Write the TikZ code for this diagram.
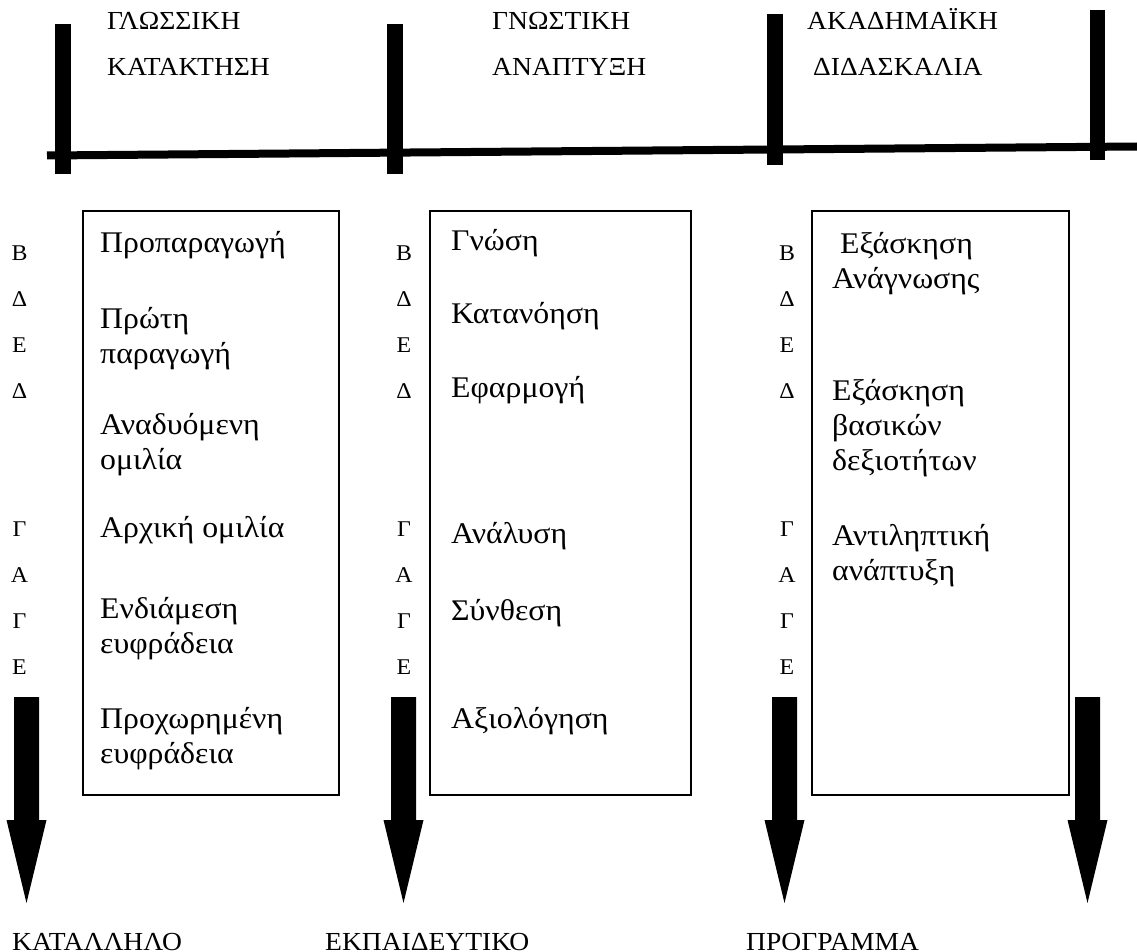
\documentclass[tikz,border=0pt]{standalone}
\usepackage{fontspec}
\setmainfont{Liberation Serif}[FakeStretch=1.06]
% first-line-aligned stack of lines
\newcommand{\mystack}[1]{\begin{tabular}[t]{@{}l@{}}#1\end{tabular}}
\begin{document}
\begin{tikzpicture}[x=1pt,y=-1pt,
  hdr/.style={anchor=base west,inner sep=0pt,font=\fontsize{26}{30}\selectfont},
  item/.style={anchor=base west,inner sep=0pt,font=\fontsize{30}{35}\selectfont},
  lvl/.style={anchor=base,inner sep=0pt,font=\fontsize{22.5}{26}\selectfont},
  stagebox/.style={draw,line width=1.6pt,inner sep=0pt,anchor=north west},
  post/.style={fill=black},
  blockarrow/.pic={\fill (-12.5,0) -- (12.5,0) -- (12.5,123) -- (20,123)
                     -- (0,206) -- (-20,123) -- (-12.5,123) -- cycle;}
]
\useasboundingbox (0,0) rectangle (1137,952);

% time line with its posts
\draw[line width=8pt] (47,155.5) -- (1137,146.5);
\fill[post] (55,24) rectangle (71,174);
\fill[post] (387,24) rectangle (403,174);
\fill[post] (767,14) rectangle (783,165);
\fill[post] (1090,10) rectangle (1105,160);

% stage headings
\node[hdr] (h1a) at (107,30) {ΓΛΩΣΣΙΚΗ};
\node[hdr] (h1b) at (107,76) {ΚΑΤΑΚΤΗΣΗ};
\node[hdr] (h2a) at (492,30) {ΓΝΩΣΤΙΚΗ};
\node[hdr] (h2b) at (492,76) {ΑΝΑΠΤΥΞΗ};
\node[hdr] (h3a) at (807,30) {ΑΚΑΔΗΜΑΪΚΗ};
\node[hdr] (h3b) at (813,76) {ΔΙΔΑΣΚΑΛΙΑ};

% stage boxes
\node[stagebox,minimum width=256pt,minimum height=584pt] (box1) at (82,210) {};
\node[stagebox,minimum width=261pt,minimum height=584pt] (box2) at (429,210) {};
\node[stagebox,minimum width=257pt,minimum height=584pt] (box3) at (811,210) {};

% language acquisition
\node[item] (a1) at (100,252) {Προπαραγωγή};
\node[item] (a2) at (100,328) {\mystack{Πρώτη\\παραγωγή}};
\node[item] (a3) at (100,434) {\mystack{Αναδυόμενη\\ομιλία}};
\node[item] (a4) at (100,537) {Αρχική ομιλία};
\node[item] (a5) at (100,618) {\mystack{Ενδιάμεση\\ευφράδεια}};
\node[item] (a6) at (100,728) {\mystack{Προχωρημένη\\ευφράδεια}};

% cognitive development
\node[item] (b1) at (451,250) {Γνώση};
\node[item] (b2) at (451,323) {Κατανόηση};
\node[item] (b3) at (451,397) {Εφαρμογή};
\node[item] (b4) at (451,543) {Ανάλυση};
\node[item] (b5) at (451,620) {Σύνθεση};
\node[item] (b6) at (451,728) {Αξιολόγηση};

% academic instruction
\node[item] (c1) at (840,253) {Εξάσκηση};
\node[item] (c1b) at (832,288) {Ανάγνωσης};
\node[item] (c2) at (832,400) {\mystack{Εξάσκηση\\βασικών\\δεξιοτήτων}};
\node[item] (c3) at (832,545) {\mystack{Αντιληπτική\\ανάπτυξη}};

% vertical letter columns
\foreach \col/\cx in {1/19.5,2/404,3/787}{
  \foreach \ch/\cy [count=\k] in {Β/260,Δ/306,Ε/352,Δ/398,Γ/536,Α/582,Γ/628,Ε/674}{
    \node[lvl] (l\col-\k) at (\cx,\cy) {\ch};
  }
}

% downward block arrows
\pic at (26.5,697) {blockarrow};
\pic at (403.5,697) {blockarrow};
\pic at (784.5,697) {blockarrow};
\pic at (1087.5,697) {blockarrow};

% bottom caption, running off the lower edge
\node[hdr] (f1) at (12,950) {ΚΑΤΑΛΛΗΛΟ};
\node[hdr] (f2) at (325,950) {ΕΚΠΑΙΔΕΥΤΙΚΟ};
\node[hdr] (f3) at (746,950) {ΠΡΟΓΡΑΜΜΑ};
\end{tikzpicture}
\end{document}
